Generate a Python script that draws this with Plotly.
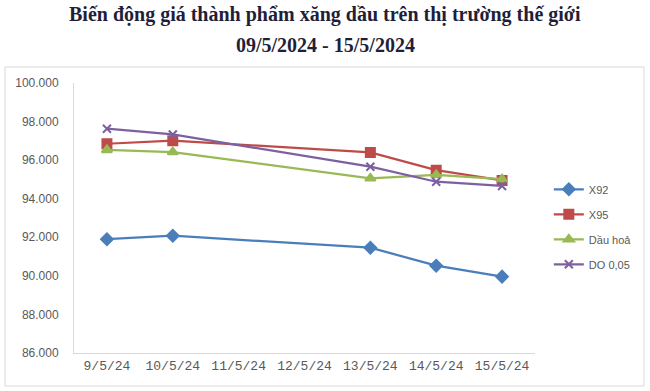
import plotly.graph_objects as go

categories = ["9/5/24", "10/5/24", "11/5/24", "12/5/24", "13/5/24", "14/5/24", "15/5/24"]
x92 = [91900, 92080, None, None, 91460, 90530, 89960]
x95 = [96850, 97010, None, None, 96400, 95480, 94950]
dau_hoa = [96530, 96420, None, None, 95060, 95230, 95010]
do005 = [97630, 97330, None, None, 95660, 94880, 94660]
y_ticks = [86000, 88000, 90000, 92000, 94000, 96000, 98000, 100000]
y_ticktext = ["86.000", "88.000", "90.000", "92.000", "94.000", "96.000", "98.000", "100.000"]

series = [
    ("X92", x92, "#4A7EBB", "diamond", 9),
    ("X95", x95, "#BE4B48", "square", 9),
    ("Dầu hoả", dau_hoa, "#98B954", "triangle-up", 9),
    ("DO 0,05", do005, "#7D60A0", "x-thin-open", 8),
]

fig = go.Figure()
for i, (name, vals, color, sym, size) in enumerate(series):
    fig.add_trace(go.Scatter(
        x=categories, y=vals, name=name, mode="lines+markers",
        connectgaps=True, legendgroup=f"g{i}",
        line=dict(color=color, width=2.25),
        marker=dict(symbol=sym, size=size, color=color,
                    line=dict(color=color, width=2)),
    ))

L, R, T, B = 74, 115, 83, 38
pw, ph = 650 - L - R, 391 - T - B

fig.update_layout(
    width=650, height=391,
    margin=dict(l=L, r=R, t=T, b=B),
    paper_bgcolor="white", plot_bgcolor="white",
    showlegend=True,
    legend=dict(x=1.03, y=0.66, xanchor="left", yanchor="top",
                font=dict(family="Liberation Sans, Arial", size=11, color="#595959"),
                tracegroupgap=6, itemwidth=30, bgcolor="rgba(0,0,0,0)"),
    xaxis=dict(type="category", showgrid=False, showline=True, linecolor="#D9D9D9",
               linewidth=1, ticks="", range=[-0.5, 6.5],
               tickfont=dict(family="Liberation Mono, DejaVu Sans Mono", size=13, color="#595959")),
    yaxis=dict(range=[86000, 100000], tickvals=y_ticks, ticktext=y_ticktext,
               showgrid=False, showline=True, linecolor="#D9D9D9", linewidth=1,
               ticks="", zeroline=False, ticklabelstandoff=12,
               tickfont=dict(family="Liberation Sans, Arial", size=12, color="#595959")),
    shapes=[dict(type="rect", xref="paper", yref="paper",
                 x0=(5 - L) / pw, x1=(644 - L) / pw,
                 y0=(353 - 386) / ph, y1=(353 - 67) / ph,
                 line=dict(color="#D9D9D9", width=1), fillcolor="rgba(0,0,0,0)", layer="below")],
    annotations=[
        dict(text="<b>Biến động giá thành phẩm xăng dầu trên thị trường thế giới</b>",
             xref="paper", yref="paper", x=(325 - L) / pw, y=(353 - 14) / ph,
             xanchor="center", yanchor="middle", showarrow=False,
             font=dict(family="Liberation Serif, Times New Roman", size=20, color="#1F1F3A")),
        dict(text="<b>09/5/2024 - 15/5/2024</b>",
             xref="paper", yref="paper", x=(325 - L) / pw, y=(353 - 45) / ph,
             xanchor="center", yanchor="middle", showarrow=False,
             font=dict(family="Liberation Serif, Times New Roman", size=20, color="#1F1F3A")),
    ],
)

fig.write_html("out.html", config={"displayModeBar": False},
               post_script="document.body.style.margin='0';")
